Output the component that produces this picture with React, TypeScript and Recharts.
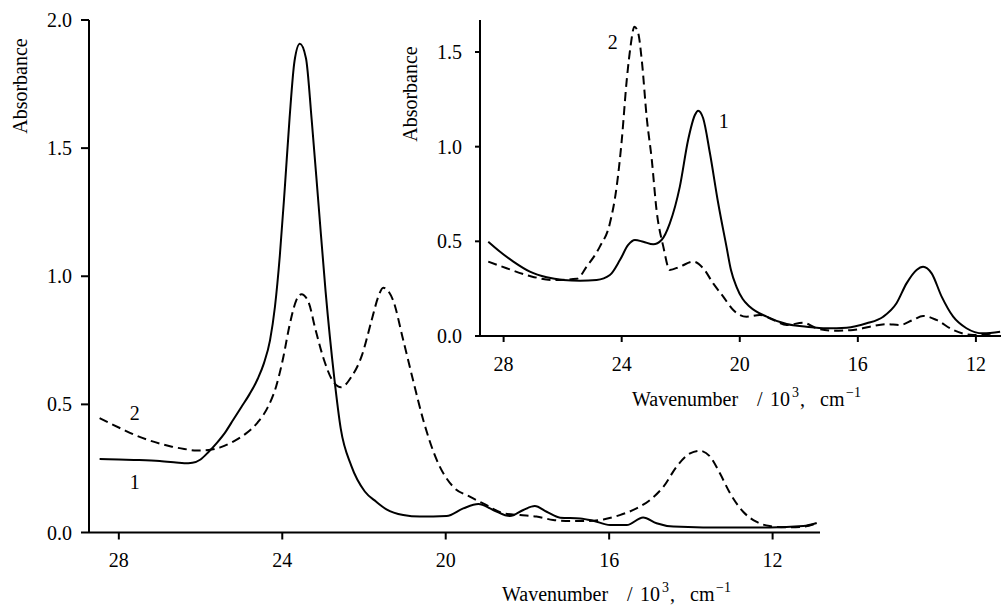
import React from 'react';
import { LineChart, Line, XAxis, YAxis, Label, ReferenceDot } from 'recharts';

const FONT = 'Liberation Serif, DejaVu Serif, Times New Roman, serif';
const FS = 20;

// ---------- Main spectra (wavenumber in 10^3 cm^-1, absorbance) ----------
const mainWn1 = [
  28.47, 28.0, 27.5, 27.0, 26.6, 26.4, 26.2, 26.0, 25.8, 25.6, 25.4, 25.2, 25.0, 24.8, 24.6,
  24.45, 24.3, 24.18, 24.06, 23.94, 23.82, 23.7, 23.57, 23.42, 23.28, 23.11, 22.94, 22.73,
  22.57, 22.31, 21.98, 21.7, 21.45, 21.04, 20.63, 19.98, 19.57, 19.2, 18.84, 18.43, 18.1,
  17.82, 17.53, 17.2, 16.71, 16.39, 15.98, 15.57, 15.17, 14.84, 14.43, 13.7, 12.88, 12.07,
  11.25, 10.92,
];
const mainAbs1 = [
  0.287, 0.285, 0.283, 0.279, 0.273, 0.27, 0.272, 0.285, 0.315, 0.35, 0.39, 0.44, 0.49, 0.54,
  0.6, 0.66, 0.75, 0.88, 1.08, 1.34, 1.62, 1.84, 1.907, 1.851, 1.61, 1.275, 0.941, 0.607,
  0.406, 0.26, 0.16, 0.12, 0.09, 0.068, 0.062, 0.064, 0.094, 0.111, 0.088, 0.064, 0.088,
  0.103, 0.081, 0.058, 0.055, 0.046, 0.029, 0.029, 0.059, 0.036, 0.023, 0.02, 0.02, 0.02,
  0.025, 0.037,
];

const mainWn2 = [
  28.47, 28.2, 27.9, 27.6, 27.3, 27.0, 26.7, 26.4, 26.1, 25.8, 25.5, 25.2, 24.9, 24.6, 24.35,
  24.15, 23.98, 23.82, 23.66, 23.53, 23.36, 23.19, 22.98, 22.77, 22.56, 22.31, 22.06, 21.81,
  21.65, 21.53, 21.29, 21.04, 20.8, 20.55, 20.22, 19.82, 19.41, 19.0, 18.59, 18.18, 17.78,
  17.37, 16.96, 16.55, 16.14, 15.74, 15.33, 15.0, 14.67, 14.35, 14.02, 13.78, 13.53, 13.29,
  13.04, 12.72, 12.4, 12.07, 11.66, 11.25, 10.92,
];
const mainAbs2 = [
  0.446, 0.425, 0.402, 0.38, 0.362, 0.347, 0.335, 0.326, 0.32, 0.322, 0.333, 0.355, 0.385,
  0.43, 0.49, 0.57, 0.68, 0.81, 0.905, 0.93, 0.9, 0.794, 0.674, 0.593, 0.567, 0.607, 0.687,
  0.83, 0.92, 0.955, 0.907, 0.751, 0.595, 0.439, 0.283, 0.179, 0.14, 0.107, 0.075, 0.068,
  0.062, 0.049, 0.045, 0.045, 0.051, 0.068, 0.094, 0.127, 0.179, 0.257, 0.309, 0.319, 0.296,
  0.231, 0.153, 0.081, 0.042, 0.025, 0.02, 0.023, 0.036,
];

// ---------- Inset spectra ----------
const insetWn1 = [
  28.52, 28.12, 27.67, 27.11, 26.54, 25.98, 25.41, 24.85, 24.4, 24.06, 23.78, 23.55, 23.27,
  22.93, 22.65, 22.37, 22.03, 21.75, 21.52, 21.41, 21.24, 21.01, 20.73, 20.45, 20.3, 20.11,
  19.9, 19.66, 19.09, 18.41, 17.74, 17.06, 16.38, 15.7, 15.14, 14.69, 14.35, 14.01, 13.79,
  13.5, 13.16, 12.77, 12.32, 11.76, 11.18,
];
const insetAbs1 = [
  0.498, 0.445, 0.393, 0.34, 0.31, 0.296, 0.292, 0.296, 0.322, 0.401, 0.481, 0.507, 0.498,
  0.484, 0.507, 0.595, 0.789, 1.035, 1.167, 1.19, 1.15, 0.965, 0.701, 0.472, 0.35, 0.26,
  0.195, 0.155, 0.102, 0.063, 0.049, 0.041, 0.044, 0.067, 0.102, 0.173, 0.278, 0.349, 0.366,
  0.331, 0.208, 0.102, 0.041, 0.014, 0.023,
];

const insetWn2 = [
  28.52, 27.9, 27.11, 26.32, 25.52, 25.19, 24.74, 24.4, 24.17, 24.0, 23.83, 23.7, 23.57,
  23.44, 23.32, 23.15, 22.98, 22.82, 22.59, 22.37, 22.03, 21.58, 21.24, 20.9, 20.56, 20.22,
  19.77, 19.32, 18.87, 18.41, 17.85, 17.4, 16.83, 16.16, 15.59, 15.03, 14.58, 14.13, 13.79,
  13.34, 12.77, 12.09, 11.41,
];
const insetAbs2 = [
  0.393, 0.358, 0.317, 0.296, 0.302, 0.366, 0.472, 0.595, 0.789, 1.03, 1.35, 1.53, 1.634,
  1.599, 1.458, 1.15, 0.93, 0.666, 0.472, 0.349, 0.366, 0.393, 0.358, 0.278, 0.208, 0.137,
  0.102, 0.111, 0.085, 0.058, 0.07, 0.041, 0.028, 0.032, 0.049, 0.063, 0.058, 0.085, 0.106,
  0.085, 0.032, 0.005, 0.014,
];

// ---------- Axis ticks ----------
const mainXTicks = [28, 24, 20, 16, 12];
const mainYTicks = [0, 0.5, 1.0, 1.5, 2.0];
const insetXTicks = [28, 24, 20, 16, 12];
const insetYTicks = [0, 0.5, 1.0, 1.5];

const curveNames = ['1', '2'];

const toPoints = (wn: number[], abs: number[]) => wn.map((x, i) => ({ x, y: abs[i] }));

const mainData1 = toPoints(mainWn1, mainAbs1);
const mainData2 = toPoints(mainWn2, mainAbs2);
const insetData1 = toPoints(insetWn1, insetAbs1);
const insetData2 = toPoints(insetWn2, insetAbs2);

const axisStroke = { stroke: '#000', strokeWidth: 2 };
const tickStyle = { fill: '#000', fontSize: FS, fontFamily: FONT, style: { fontFamily: FONT } };
const fmt = (v: number) => v.toFixed(1);

// x-axis title with superscripts
const WavenumberTitle = ({ x, y }: { x: number; y: number }) => (
  <text x={x} y={y} fill="#000" style={{ fontFamily: FONT, fontSize: FS }}>
    <tspan x={x}>Wavenumber</tspan>
    <tspan x={x + 125}>/</tspan>
    <tspan x={x + 138}>10</tspan>
    <tspan x={x + 160} dy={-9} style={{ fontSize: 14 }}>3</tspan>
    <tspan x={x + 168} dy={9}>,</tspan>
    <tspan x={x + 188}>cm</tspan>
    <tspan x={x + 214} dy={-9} style={{ fontSize: 14 }}>−1</tspan>
  </text>
);

const AbsTitle = ({ cx, cy }: { cx: number; cy: number }) => (
  <text
    x={cx}
    y={cy}
    transform={`rotate(-90 ${cx} ${cy})`}
    textAnchor="middle"
    dominantBaseline="central"
    fill="#000"
    style={{ fontFamily: FONT, fontSize: FS }}
  >
    Absorbance
  </text>
);

const curveLabel = (text: string) => (
  <Label value={text} position="center" fill="#000" fontSize={FS} style={{ fontFamily: FONT }} />
);

export default function App() {
  return (
    <div
      style={{
        position: 'absolute',
        left: 0,
        top: 0,
        width: 1001,
        height: 611,
        background: '#fff',
        fontFamily: FONT,
      }}
    >
      {/* main spectrum */}
      <div style={{ position: 'absolute', left: 0, top: 0 }}>
        <LineChart width={1001} height={611} margin={{ top: 20, right: 181, bottom: 0, left: 0 }}>
          <XAxis
            type="number"
            dataKey="x"
            domain={[10.84, 28.73]}
            reversed
            allowDataOverflow
            ticks={mainXTicks}
            interval={0}
            height={78.5}
            tickSize={7}
            tickMargin={13}
            axisLine={axisStroke}
            tickLine={axisStroke}
            tick={tickStyle}
          >
            <Label content={() => <WavenumberTitle x={502} y={601} />} />
          </XAxis>
          <YAxis
            type="number"
            domain={[0, 2]}
            allowDataOverflow
            ticks={mainYTicks}
            interval={0}
            width={89}
            tickSize={8}
            tickMargin={9}
            tickFormatter={fmt}
            axisLine={axisStroke}
            tickLine={axisStroke}
            tick={tickStyle}
          >
            <Label content={() => <AbsTitle cx={20} cy={86} />} />
          </YAxis>
          <Line
            data={mainData1}
            dataKey="y"
            type="monotone"
            stroke="#000"
            strokeWidth={2}
            dot={false}
            activeDot={false}
            isAnimationActive={false}
          />
          <Line
            data={mainData2}
            dataKey="y"
            type="monotone"
            stroke="#000"
            strokeWidth={2}
            strokeDasharray="9 5"
            dot={false}
            activeDot={false}
            isAnimationActive={false}
          />
          <ReferenceDot x={27.61} y={0.197} r={0} fill="none" stroke="none" label={curveLabel(curveNames[0])} />
          <ReferenceDot x={27.61} y={0.466} r={0} fill="none" stroke="none" label={curveLabel(curveNames[1])} />
        </LineChart>
      </div>

      {/* inset spectrum */}
      <div style={{ position: 'absolute', left: 380, top: 0 }}>
        <LineChart width={621} height={420} margin={{ top: 20, right: 0, bottom: 0, left: 0 }}>
          <XAxis
            type="number"
            dataKey="x"
            domain={[11.15, 28.8]}
            reversed
            allowDataOverflow
            ticks={insetXTicks}
            interval={0}
            height={84}
            tickSize={6}
            tickMargin={15}
            axisLine={axisStroke}
            tickLine={axisStroke}
            tick={tickStyle}
          >
            <Label content={() => <WavenumberTitle x={252} y={406} />} />
          </XAxis>
          <YAxis
            type="number"
            domain={[0, 1.669]}
            allowDataOverflow
            ticks={insetYTicks}
            interval={0}
            width={100}
            tickSize={5}
            tickMargin={13}
            tickFormatter={fmt}
            axisLine={axisStroke}
            tickLine={axisStroke}
            tick={tickStyle}
          >
            <Label content={() => <AbsTitle cx={30} cy={94} />} />
          </YAxis>
          <Line
            data={insetData1}
            dataKey="y"
            type="monotone"
            stroke="#000"
            strokeWidth={2}
            dot={false}
            activeDot={false}
            isAnimationActive={false}
          />
          <Line
            data={insetData2}
            dataKey="y"
            type="monotone"
            stroke="#000"
            strokeWidth={2}
            strokeDasharray="9 5"
            dot={false}
            activeDot={false}
            isAnimationActive={false}
          />
          <ReferenceDot x={20.54} y={1.136} r={0} fill="none" stroke="none" label={curveLabel(curveNames[0])} />
          <ReferenceDot x={24.3} y={1.553} r={0} fill="none" stroke="none" label={curveLabel(curveNames[1])} />
        </LineChart>
      </div>
    </div>
  );
}
